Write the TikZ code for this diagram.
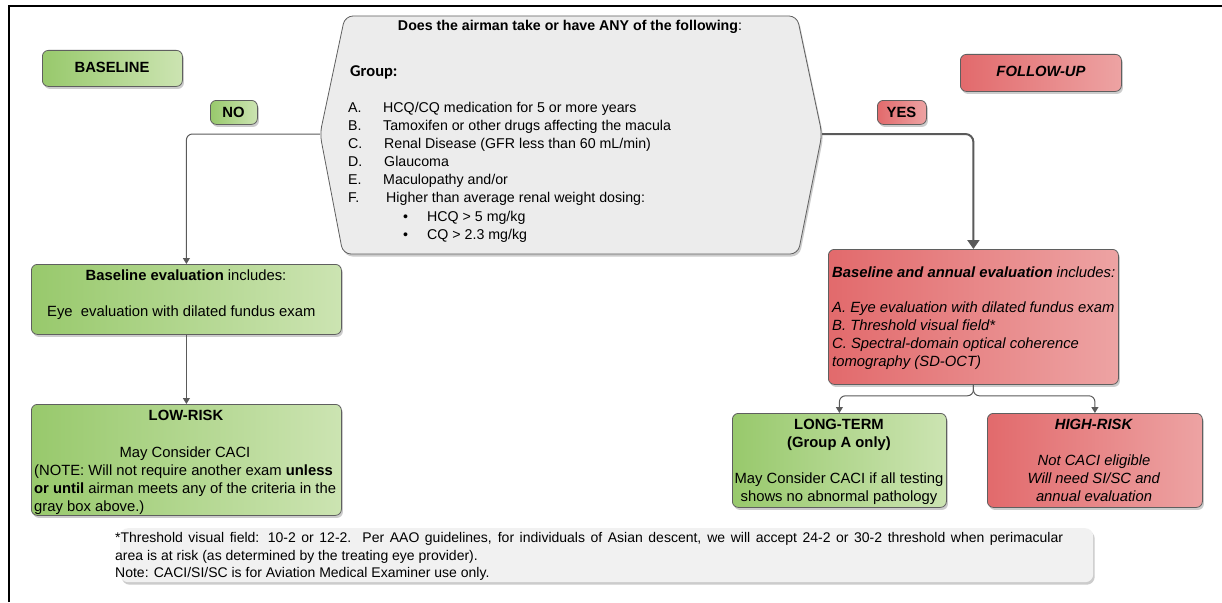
\documentclass[tikz,border=0pt]{standalone}
\usepackage{fontspec}
\setmainfont{Liberation Sans}
\newfontfamily\grpfont{Carlito}
\usetikzlibrary{shadows,arrows.meta}

\definecolor{gA}{RGB}{152,201,108}
\definecolor{gB}{RGB}{204,228,178}
\definecolor{rA}{RGB}{226,106,108}
\definecolor{rB}{RGB}{237,163,163}
\definecolor{bord}{RGB}{95,95,95}
\definecolor{connc}{RGB}{90,90,90}
\definecolor{hexfill}{RGB}{236,236,236}
\definecolor{notefill}{RGB}{241,241,241}

\tikzset{
  shadowed/.style={drop shadow={shadow xshift=1.5pt,shadow yshift=-2.5pt,fill=black!20,opacity=1}},
  boxbase/.style={draw=bord, line width=0.8pt, rounded corners=6pt, shadowed, inner sep=0pt, anchor=north west},
  gbox/.style={boxbase, left color=gA, right color=gB},
  rbox/.style={boxbase, left color=rA, right color=rB},
  lbl/.style={inner sep=0pt, font=\fontsize{14.8}{18}\selectfont},
  hlbl/.style={inner sep=0pt, anchor=base west, font=\fontsize{14.2}{18}\selectfont},
  notelbl/.style={inner sep=0pt, anchor=base west, font=\fontsize{14}{18}\selectfont},
  connA/.style={draw=connc, line width=1pt, rounded corners=6pt, -{Triangle[length=6pt,width=7pt]}},
  connB/.style={draw=connc, line width=2pt, rounded corners=8pt, -{Triangle[length=9pt,width=12pt]}},
}

\begin{document}
\begin{tikzpicture}[x=1pt,y=-1pt]
\useasboundingbox (0,0) rectangle (1222,602);
\fill[white] (0,0) rectangle (1222,602);

% frame
\draw[line width=2pt] (9,602) -- (9,6.5) -- (1222,6.5);

% central hexagon
\path[draw=bord, line width=0.8pt, fill=hexfill, rounded corners=8pt, shadowed]
  (345,16) -- (797,16) -- (822,134) -- (798,254) -- (343,254) -- (320,134) -- cycle;
\coordinate (hexL) at (320,134);
\coordinate (hexR) at (822,134);

% boxes
\node[gbox, minimum width=140pt, minimum height=36pt] (baseline) at (42,50) {};
\node[gbox, minimum width=47pt, minimum height=24pt] (no) at (210,100) {};
\node[rbox, minimum width=161pt, minimum height=37pt] (follow) at (960,54) {};
\node[rbox, minimum width=49pt, minimum height=24pt] (yes) at (877,100) {};
\node[gbox, minimum width=310pt, minimum height=70pt] (beval) at (31,264) {};
\node[gbox, minimum width=310pt, minimum height=111pt] (lowrisk) at (31,404) {};
\node[rbox, minimum width=290pt, minimum height=135pt] (reval) at (828,249) {};
\node[gbox, minimum width=214pt, minimum height=94pt] (longterm) at (732,413) {};
\node[rbox, minimum width=215pt, minimum height=94pt] (highrisk) at (987,413) {};
\node[fill=notefill, rounded corners=8pt, shadowed, inner sep=0pt, anchor=north west,
      minimum width=973pt, minimum height=54pt] (notebox) at (120,528) {};

% connectors
\draw[connA] (hexL) -| (beval.north);
\draw[connA] (beval.south) -- (lowrisk.north);
\draw[connB] (hexR) -| (reval.north);
\draw[connA] (reval.south) -- ++(0,11) -| (longterm.north);
\draw[connA] (reval.south) -- ++(0,11) -| (highrisk.north);

% hexagon text
\node[hlbl, anchor=base] (q) at (570,31) {\textbf{Does the airman take or have ANY of the following}:};
\node[inner sep=0pt, anchor=base west, font=\grpfont\bfseries\fontsize{16.5}{18}\selectfont] (grp) at (350,76) {Group:};
\node[hlbl] (la) at (348,112) {A.};
\node[hlbl] (ta) at (383,112) {HCQ/CQ medication for 5 or more years};
\node[hlbl] (lb) at (348,130) {B.};
\node[hlbl] (tb) at (383,130) {Tamoxifen or other drugs affecting the macula};
\node[hlbl] (lc) at (348,148) {C.};
\node[hlbl] (tc) at (384,148) {Renal Disease (GFR less than 60 mL/min)};
\node[hlbl] (ld) at (348,166) {D.};
\node[hlbl] (td) at (384,166) {Glaucoma};
\node[hlbl] (le) at (348,184) {E.};
\node[hlbl] (te) at (383,184) {Maculopathy and/or};
\node[hlbl] (lf) at (348,202) {F.};
\node[hlbl] (tf) at (386,202) {Higher than average renal weight dosing:};
\node[hlbl] (b1) at (403,221) {\textbullet};
\node[hlbl] (tb1) at (427,221) {HCQ > 5 mg/kg};
\node[hlbl] (b2) at (403,239) {\textbullet};
\node[hlbl] (tb2) at (427,239) {CQ > 2.3 mg/kg};

% left side text
\node[lbl, anchor=base] (tbaseline) at (112,72) {\textbf{BASELINE}};
\node[lbl, anchor=base] (tno) at (233.5,117) {\textbf{NO}};
\node[lbl, anchor=base] (tbe1) at (186,280) {\textbf{Baseline evaluation} includes:};
\node[lbl, anchor=base west] (tbe2) at (47,316) {Eye\ \ evaluation with dilated fundus exam};
\node[lbl, anchor=base] (tlr1) at (186,420) {\textbf{LOW-RISK}};
\node[lbl, anchor=base] (tlr2) at (185,457) {May Consider CACI};
\node[lbl, anchor=base west] (tlr3) at (34,475) {(NOTE: Will not require another exam \textbf{unless}};
\node[lbl, anchor=base west] (tlr4) at (34,493) {\textbf{or until} airman meets any of the criteria in the};
\node[lbl, anchor=base west] (tlr5) at (34,511) {gray box above.)};

% right side text
\node[lbl, anchor=base] (tfollow) at (1041,77) {\textbf{\textit{FOLLOW-UP}}};
\node[lbl, anchor=base] (tyes) at (901.5,117) {\textbf{YES}};
\node[lbl, anchor=base west] (tre1) at (832,277) {\textbf{\textit{Baseline and annual evaluation}}\textit{ includes:}};
\node[lbl, anchor=base west] (tre2) at (832,312) {\textit{A. Eye evaluation with dilated fundus exam}};
\node[lbl, anchor=base west] (tre3) at (832,330) {\textit{B. Threshold visual field*}};
\node[lbl, anchor=base west] (tre4) at (832,348) {\textit{C. Spectral-domain optical coherence}};
\node[lbl, anchor=base west] (tre5) at (832,366) {\textit{tomography (SD-OCT)}};
\node[lbl, anchor=base] (tlt1) at (839,429) {\textbf{LONG-TERM}};
\node[lbl, anchor=base] (tlt2) at (839,447) {\textbf{(Group A only)}};
\node[lbl, anchor=base] (tlt3) at (839,483) {May Consider CACI if all testing};
\node[lbl, anchor=base] (tlt4) at (839,501) {shows no abnormal pathology};
\node[lbl, anchor=base] (thr1) at (1094,429) {\textbf{\textit{HIGH-RISK}}};
\node[lbl, anchor=base] (thr2) at (1094,465) {\textit{Not CACI eligible}};
\node[lbl, anchor=base] (thr3) at (1094,483) {\textit{Will need SI/SC and}};
\node[lbl, anchor=base] (thr4) at (1094,501) {\textit{annual evaluation}};

% note text
\node[notelbl] (n1) at (115,542) {\makebox[948pt][s]{*Threshold visual field: 10-2 or 12-2.\ \ Per AAO guidelines, for individuals of Asian descent, we will accept 24-2 or 30-2 threshold when perimacular}};
\node[notelbl] (n2) at (115,560) {area is at risk (as determined by the treating eye provider).};
\node[notelbl] (n3) at (115,577) {Note: CACI/SI/SC is for Aviation Medical Examiner use only.};
\end{tikzpicture}
\end{document}
